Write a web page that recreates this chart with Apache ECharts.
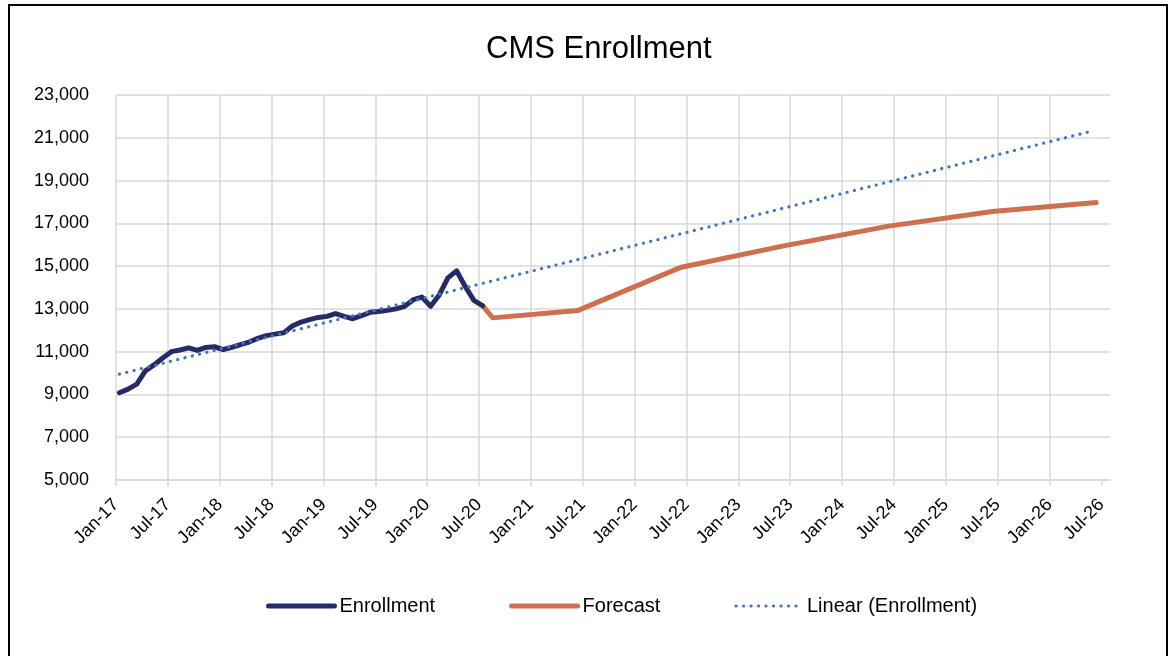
<!DOCTYPE html>
<html>
<head>
<meta charset="utf-8">
<title>CMS Enrollment</title>
<script src="https://cdn.jsdelivr.net/npm/echarts@6/dist/echarts.min.js"></script>
<style>
    html, body { margin: 0; padding: 0; background: #fff; }
    #main { width: 1170px; height: 656px; }
</style>
</head>
<body>
<div id="main"></div>
<script>
// x values are months counted from Jan-17 (0 = Jan-17, 114 = Jul-26)
var tickLabels = ['Jan-17', 'Jul-17', 'Jan-18', 'Jul-18', 'Jan-19', 'Jul-19', 'Jan-20', 'Jul-20', 'Jan-21', 'Jul-21',
    'Jan-22', 'Jul-22', 'Jan-23', 'Jul-23', 'Jan-24', 'Jul-24', 'Jan-25', 'Jul-25', 'Jan-26', 'Jul-26'];

// monthly enrollment, first point a bit after Jan-17
var enrollStart = 0.4;
var enrollment = [9080, 9250, 9480, 10100, 10380, 10700, 11000, 11080, 11180, 11060,
    11200, 11230, 11100, 11200, 11330, 11450, 11620, 11750, 11820, 11880,
    12200, 12380, 12500, 12600, 12650, 12780, 12650, 12540, 12680, 12840,
    12880, 12930, 13000, 13120, 13430, 13550, 13120, 13650, 14450, 14780,
    14050, 13400, 13150];

var forecastMonths = [42.4, 43.6, 53.4, 65.4, 77.4, 89.4, 101.4, 113.4];
var forecastValues = [13150, 12580, 12920, 14950, 15960, 16870, 17550, 17970];

// Linear (Enrollment) trendline end points
var trendMonths = [0.4, 112.9];
var trendValues = [9950, 21310];

var fontFamily = '"Liberation Sans", Arial, sans-serif';
var gridColor = '#d9d9d9';

function pairs(xs, ys) {
    var out = [];
    for (var i = 0; i < ys.length; i++) {
        out.push([xs[i], ys[i]]);
    }
    return out;
}

var enrollData = enrollment.map(function (v, i) { return [enrollStart + i, v]; });

var tickValues = tickLabels.map(function (t, i) { return i * 6; });

var myChart = echarts.init(document.getElementById('main'));
var option = {
    backgroundColor: '#fff',
    animation: false,
    textStyle: { fontFamily: fontFamily },
    title: {
        text: 'CMS Enrollment',
        left: 481,
        top: 29,
        textStyle: { fontFamily: fontFamily, fontSize: 31, fontWeight: 'normal', color: '#000' }
    },
    graphic: [{
        type: 'rect',
        silent: true,
        shape: { x: 9, y: 5, width: 1158, height: 700 },
        style: { fill: 'none', stroke: '#000', lineWidth: 2 }
    }],
    legend: {
        left: 261,
        top: 591,
        itemWidth: 66,
        itemHeight: 14,
        itemGap: 74,
        itemStyle: { opacity: 0 },
        textStyle: { fontFamily: fontFamily, fontSize: 20, color: '#000' },
        data: [
            { name: 'Enrollment', lineStyle: { width: 5, cap: 'round' } },
            { name: 'Forecast', lineStyle: { width: 5, cap: 'round' } },
            { name: 'Linear (Enrollment)', lineStyle: { width: 3.2, cap: 'round' } }
        ]
    },
    grid: {
        left: 116,
        right: 60,
        top: 95,
        bottom: 176,
        containLabel: false
    },
    xAxis: {
        type: 'value',
        min: 0,
        max: 115,
        interval: 6,
        axisLine: { show: true, lineStyle: { color: gridColor, width: 1.5 } },
        axisTick: { show: true, length: 6, customValues: tickValues, lineStyle: { color: gridColor, width: 1.5 } },
        axisLabel: {
            rotate: 45,
            margin: 22,
            fontSize: 18,
            color: '#000',
            fontFamily: fontFamily,
            showMaxLabel: false,
            formatter: function (v) {
                return v % 6 === 0 ? (tickLabels[v / 6] || '') : '';
            }
        },
        splitLine: { show: true, showMaxLine: false, lineStyle: { color: gridColor, width: 1.5 } }
    },
    yAxis: {
        type: 'value',
        min: 5000,
        max: 23000,
        interval: 2000,
        axisLine: { show: false },
        axisTick: { show: false },
        axisLabel: {
            margin: 27,
            fontSize: 18,
            color: '#000',
            fontFamily: fontFamily,
            formatter: function (v) { return v.toLocaleString('en-US'); }
        },
        splitLine: { show: true, lineStyle: { color: gridColor, width: 1.5 } }
    },
    series: [
        {
            name: 'Enrollment',
            type: 'line',
            data: enrollData,
            showSymbol: false,
            symbol: 'none',
            color: '#262b66',
            lineStyle: { color: '#262b66', width: 5, cap: 'round', join: 'round' },
            z: 3
        },
        {
            name: 'Forecast',
            type: 'line',
            data: pairs(forecastMonths, forecastValues),
            showSymbol: false,
            symbol: 'none',
            color: '#cf6f4d',
            lineStyle: { color: '#cf6f4d', width: 5, cap: 'round', join: 'round' },
            z: 2
        },
        {
            name: 'Linear (Enrollment)',
            type: 'line',
            data: pairs(trendMonths, trendValues),
            showSymbol: false,
            symbol: 'none',
            color: '#4472c4',
            lineStyle: { color: '#4472c4', width: 3.2, type: [0.1, 7.4], cap: 'round' },
            z: 4
        }
    ]
};
myChart.setOption(option);
</script>
</body>
</html>
